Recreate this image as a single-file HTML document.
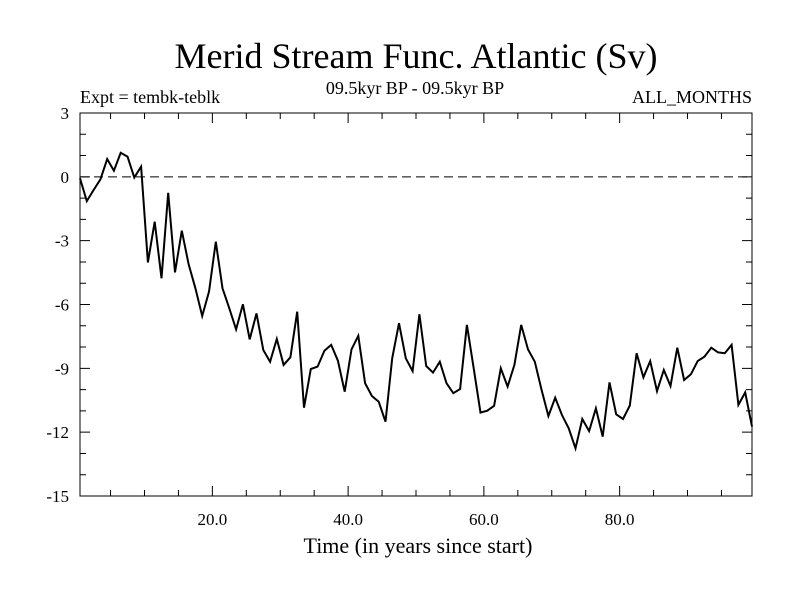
<!DOCTYPE html>
<html><head><meta charset="utf-8"><style>
html,body{margin:0;padding:0;background:#fff;}
svg text{font-family:"Liberation Serif",serif;fill:#000;}
</style></head><body>
<svg id="chart" width="800" height="600" xmlns="http://www.w3.org/2000/svg">
<rect width="800" height="600" fill="#fff"/>
<text x="416" y="68" font-size="36" text-anchor="middle">Merid Stream Func. Atlantic (Sv)</text>
<text x="80" y="103" font-size="18">Expt = tembk-teblk</text>
<text x="415" y="94" font-size="18" text-anchor="middle">09.5kyr BP - 09.5kyr BP</text>
<text x="752" y="103" font-size="18" text-anchor="end">ALL_MONTHS</text>
<text x="418" y="553" font-size="22" text-anchor="middle">Time (in years since start)</text>
<g id="axes"></g>
<g id="plot"></g>
</svg>
<script>
const xTicks = [20, 40, 60, 80];
const xTickLabels = ["20.0", "40.0", "60.0", "80.0"];
const yTicks = [3, 0, -3, -6, -9, -12, -15];
const yTickLabels = ["3", "0", "-3", "-6", "-9", "-12", "-15"];
const values = [
-0.07,-1.14,-0.62,-0.12,0.84,0.29,1.13,0.95,-0.03,0.48,
-4.02,-2.11,-4.77,-0.75,-4.49,-2.53,-4.10,-5.24,-6.54,-5.40,
-3.05,-5.24,-6.18,-7.17,-5.99,-7.64,-6.42,-8.14,-8.69,-7.62,
-8.84,-8.48,-6.34,-10.85,-9.03,-8.92,-8.17,-7.90,-8.64,-10.10,
-8.11,-7.47,-9.70,-10.30,-10.57,-11.51,-8.53,-6.88,-8.53,-9.13,
-6.46,-8.89,-9.20,-8.69,-9.70,-10.17,-9.97,-6.96,-9.00,-11.08,
-10.99,-10.76,-9.00,-9.86,-8.84,-6.96,-8.11,-8.69,-10.02,-11.24,
-10.38,-11.19,-11.82,-12.76,-11.38,-11.95,-10.88,-12.21,-9.66,-11.16,
-11.38,-10.75,-8.29,-9.42,-8.66,-10.07,-9.08,-9.83,-8.03,-9.55,
-9.28,-8.66,-8.45,-8.03,-8.25,-8.29,-7.90,-10.72,-10.13,-11.74];
const years = values.map((v,i)=>i+0.5);

const L=80,R=752,T=113,B=496;
const xMin=0.5,xMax=99.5,yMin=-15,yMax=3;
const sx=v=>L+(v-xMin)/(xMax-xMin)*(R-L);
const sy=v=>T+(yMax-v)/(yMax-yMin)*(B-T);
const NS="http://www.w3.org/2000/svg";
const axes=document.getElementById('axes'), plot=document.getElementById('plot');
function mk(tag,attrs,parent){const e=document.createElementNS(NS,tag);for(const k in attrs)e.setAttribute(k,attrs[k]);parent.appendChild(e);return e;}

const frame=mk('rect',{x:L,y:T,width:R-L,height:B-T,fill:'none',stroke:'#000','stroke-width':1},axes);



let d='';
for(let v=5;v<xMax;v+=5){const x=sx(v);const len=(v%20===0)?10:6;d+=`M${x},${B}v${-len}M${x},${T}v${len}`;}
for(let v=yMin+1;v<yMax;v+=1){const y=sy(v);const len=(v%3===0)?10:6;d+=`M${L},${y}h${len}M${R},${y}h${-len}`;}
const ticks=mk('path',{d:d,stroke:'#000','stroke-width':1,fill:'none'},axes);



xTicks.forEach((v,i)=>{
  const t=mk('text',{x:sx(v),y:B+29,'font-size':17,'text-anchor':'middle'},axes);
  t.textContent=xTickLabels[i];
  
  
});
yTicks.forEach((v,i)=>{
  const t=mk('text',{x:L-11,y:sy(v)+6,'font-size':17,'text-anchor':'end'},axes);
  t.textContent=yTickLabels[i];
  
  
});

const zero=mk('line',{x1:L,x2:R,y1:sy(0),y2:sy(0),stroke:'#000','stroke-width':1,'stroke-dasharray':'9,5'},plot);



const pts=values.map((v,i)=>`${sx(years[i]).toFixed(1)},${sy(v).toFixed(1)}`).join(' ');
const line=mk('polyline',{points:pts,fill:'none',stroke:'#000','stroke-width':2,'stroke-linejoin':'miter'},plot);


</script>
</body></html>
